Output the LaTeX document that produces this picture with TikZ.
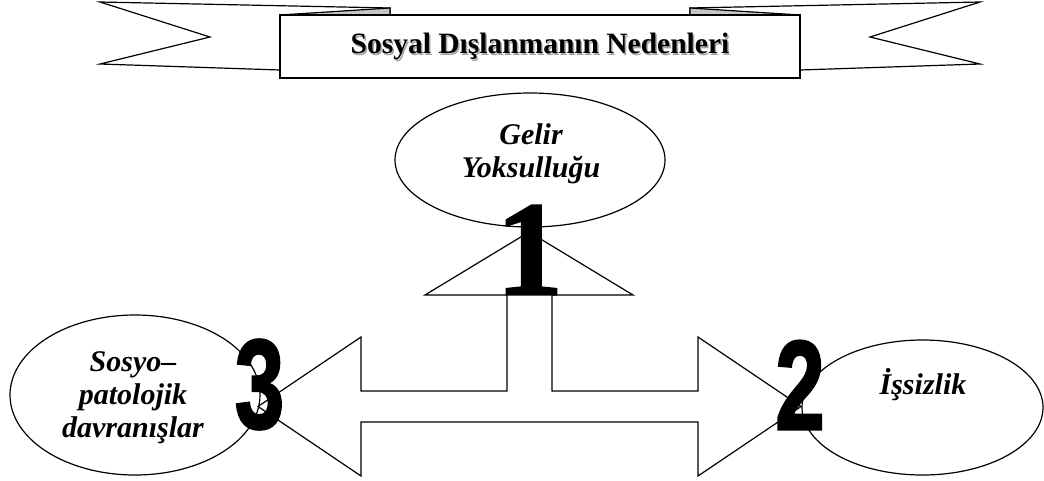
\documentclass[tikz,border=0pt]{standalone}
\usepackage{fontspec}
\usepackage{graphicx}
\setmainfont{Liberation Serif}
\newfontfamily\heavyserif[FakeBold=1.5]{Liberation Serif Bold}
\newfontfamily\heavysans[FakeBold=2]{Liberation Sans Bold}
\usetikzlibrary{shapes.geometric}

\begin{document}
\begin{tikzpicture}[x=1pt, y=-1pt, line width=1.2pt,
    oval/.style={draw, ellipse, fill=white, inner sep=0pt},
    ovaltext/.style={align=center, font=\fontsize{30}{33}\selectfont\bfseries\itshape},
    bigdigit/.style={inner sep=0pt}]
    \useasboundingbox (0,0) rectangle (1044,480);

    \draw[fill=white] (280,70) -- (100,64) -- (210,37) -- (100,2) -- (390,8) -- (390,15);
    \draw[fill=white] (800,70) -- (980,64) -- (870,37) -- (980,2) -- (690,8) -- (690,15);
    \draw[fill=gray!45] (280,15) -- (390,8) -- (390,15) -- cycle;
    \draw[fill=gray!45] (800,15) -- (690,8) -- (690,15) -- cycle;
    \node[draw, fill=white, minimum width=520, minimum height=63, inner sep=0pt] (title) at (540,46.5) {};
    \node[text=gray!70, font=\fontsize{29.5}{33}\selectfont\bfseries] (titleshadow) at (541.5,48) {Sosyal Dışlanmanın Nedenleri};
    \node[font=\fontsize{29.5}{33}\selectfont\bfseries] (titletext) at (540,46.5) {Sosyal Dışlanmanın Nedenleri};

    \node[oval, minimum width=270, minimum height=134] (gelir) at (530,160) {};
    \node[oval, minimum width=250, minimum height=160] (sosyo) at (135,395) {};
    \node[oval, minimum width=241, minimum height=135] (issiz) at (922.5,407.5) {};

    \draw[fill=white] (529,232) -- (633,295) -- (552,295) -- (552,391) -- (698,391)
        -- (698,337) -- (801,406.5) -- (698,476) -- (698,422) -- (361,422)
        -- (361,476) -- (258,406.5) -- (361,337) -- (361,391) -- (507,391)
        -- (507,295) -- (425,295) -- cycle;

    \node[ovaltext] (gelirtext) at (531,154) {Gelir\\Yoksulluğu};
    \node[ovaltext] (sosyotext) at (133,398) {Sosyo–\\patolojik\\davranışlar};
    \node[ovaltext] (issiztext) at (923,385) {İşsizlik};

    \node[bigdigit, font=\fontsize{135}{135}\selectfont\heavyserif] (1) at (529.5,250) {1};
    \node[bigdigit, font=\fontsize{127}{127}\selectfont\heavysans] (2) at (800,385) {\scalebox{0.7}[1]{2}};
    \node[bigdigit, font=\fontsize{127}{127}\selectfont\heavysans] (3) at (259.5,384.5) {\scalebox{0.7}[1]{3}};
\end{tikzpicture}
\end{document}
